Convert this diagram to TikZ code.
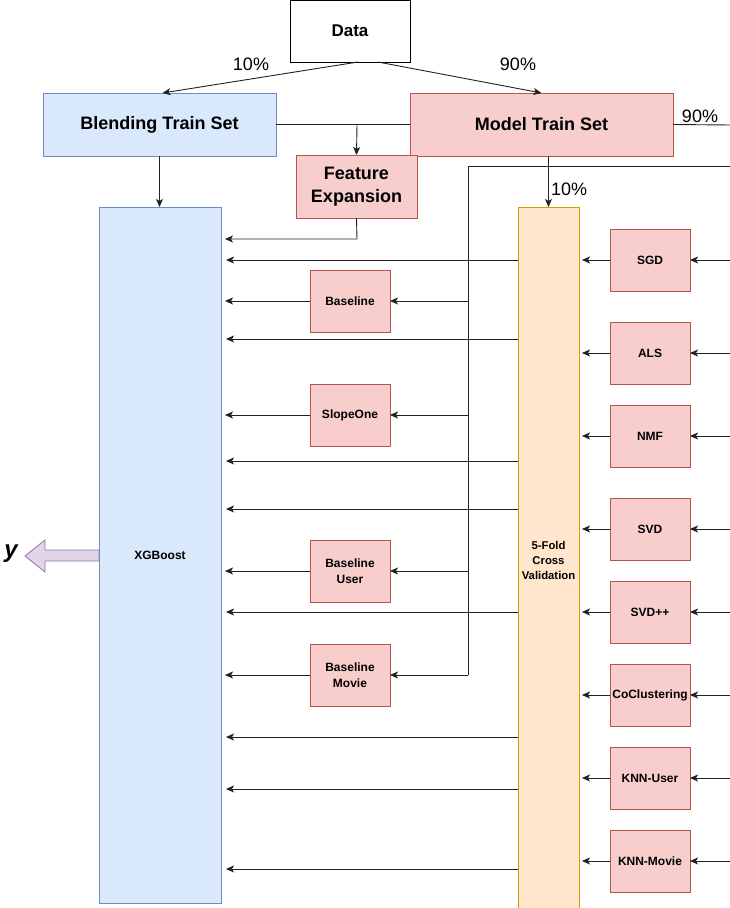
\documentclass[tikz,border=0pt]{standalone}
\usepackage{fontspec}
\setmainfont{Liberation Sans}
\usetikzlibrary{arrows.meta}
\definecolor{bluefill}{HTML}{DAE8FC}
\definecolor{bluedraw}{HTML}{6C8EBF}
\definecolor{redfill}{HTML}{F8CECC}
\definecolor{reddraw}{HTML}{B85450}
\definecolor{orfill}{HTML}{FFE6CC}
\definecolor{ordraw}{HTML}{D79B00}
\definecolor{purfill}{HTML}{E1D5E7}
\definecolor{purdraw}{HTML}{9673A6}
\definecolor{linec}{HTML}{222222}
\tikzset{
  box/.style={draw, inner sep=0pt, outer sep=0pt, align=center, font=\bfseries, line width=0.8pt},
  bluebox/.style={box, fill=bluefill, draw=bluedraw},
  redbox/.style={box, fill=redfill, draw=reddraw},
  orbox/.style={box, fill=orfill, draw=ordraw},
  algo/.style={redbox, minimum width=80pt, minimum height=62pt, font=\bfseries\fontsize{12}{16}\selectfont},
  arr/.style={draw=linec, line width=0.9pt, -{Stealth[length=8pt,width=7pt,inset=2pt]}},
  ln/.style={draw=linec, line width=0.9pt},
  pct/.style={font=\fontsize{18}{20}\selectfont, inner sep=0pt}
}
\begin{document}
\begin{tikzpicture}[x=1pt,y=-1pt]
\useasboundingbox (0,0) rectangle (730,908);
\fill[white] (0,0) rectangle (730,908);

% main boxes
\node[box, fill=white, draw=black, minimum width=120pt, minimum height=62pt, font=\bfseries\fontsize{17}{20}\selectfont] (data) at (350,31) {Data};
\node[bluebox, minimum width=233pt, minimum height=63pt, font=\bfseries\fontsize{18}{20}\selectfont] (blend) at (159.5,124.5) {Blending Train Set};
\node[redbox, minimum width=263pt, minimum height=63pt, font=\bfseries\fontsize{18}{20}\selectfont] (model) at (541.5,124.5) {Model Train Set};
\node[redbox, minimum width=121pt, minimum height=63pt, font=\bfseries\fontsize{18}{23}\selectfont] (feat) at (356.5,186.5) {Feature\\Expansion};
\node[bluebox, minimum width=122pt, minimum height=696pt, font=\bfseries\fontsize{12}{14}\selectfont] (xgb) at (160,555) {XGBoost};
\node[orbox, minimum width=61pt, minimum height=706pt, font=\bfseries\fontsize{11.3}{15}\selectfont] (cv) at (548.5,560) {5-Fold\\Cross\\Validation};

% left algorithm boxes
\node[algo] (base) at (350,301) {Baseline};
\node[algo] (slope) at (350,415) {SlopeOne};
\node[algo] (buser) at (350,571) {Baseline\\User};
\node[algo] (bmovie) at (350,675) {Baseline\\Movie};

% right algorithm boxes
\node[algo] (sgd) at (650,260) {SGD};
\node[algo] (als) at (650,353) {ALS};
\node[algo] (nmf) at (650,436) {NMF};
\node[algo] (svd) at (650,529) {SVD};
\node[algo] (svdpp) at (650,612) {SVD++};
\node[algo] (cocl) at (650,695) {CoClustering};
\node[algo] (knnu) at (650,778) {KNN-User};
\node[algo] (knnm) at (650,861) {KNN-Movie};

% data split
\draw[arr] ([xshift=8pt]data.south) -- ([xshift=3pt]blend.north);
\draw[arr] ([xshift=28pt]data.south) -- (model.north);
\node[pct] (p10a) at (251,64) {10\%};
\node[pct] (p90a) at (518,64) {90\%};

% blend - model line and feature expansion
\draw[ln] (blend.east) -- (model.west);
\coordinate (fj) at (357,125);
\draw[arr] (fj) -- (feat.north);
\coordinate (r0) at (731,125);
\draw[ln] (model.east) -- (r0);
\node[pct] (p90b) at (700,116) {90\%};
\coordinate (fbend) at (357,239);
\draw[arr, shorten >=4pt] (feat.south) -- (fbend) -- (fbend -| xgb.east);

\draw[arr] (blend.south) -- (blend.south |- xgb.north);
\draw[arr] (model.south -| cv.north) -- (cv.north);
\node[pct, anchor=west] (p10b) at (551,189) {10\%};

% branch line to left models
\coordinate (r1) at (731,166);
\coordinate (bt) at (468,166);
\coordinate (bb) at (468,675);
\draw[ln] (r1) -- (bt) -- (bb);
\draw[arr] (bb) -- (bmovie.east);
\draw[arr] (bt |- base.east) -- (base.east);
\draw[arr] (bt |- slope.east) -- (slope.east);
\draw[arr] (bt |- buser.east) -- (buser.east);

% left models to XGBoost
\foreach \n in {base,slope,buser,bmovie}
  \draw[arr, shorten >=4pt] (\n.west) -- (\n.west -| xgb.east);

% CV to XGBoost
\foreach \yy [count=\i] in {260,339,461,509,612,737,789,869} {
  \coordinate (cvo\i) at (518,\yy);
  \draw[arr, shorten >=5pt] (cvo\i) -- (cvo\i -| xgb.east);
}

% right models to CV, and inputs
\foreach \n in {sgd,als,nmf,svd,svdpp,cocl,knnu,knnm} {
  \draw[arr, shorten >=3pt] (\n.west) -- (\n.west -| cv.east);
  \draw[arr] (\n.east -| r0) -- (\n.east);
}

% output arrow
\filldraw[fill=purfill, draw=purdraw, line width=0.8pt]
  (99,550) -- (45,550) -- (45,540) -- (25,556) -- (45,572) -- (45,561) -- (99,561) -- cycle;
\node[font=\bfseries\itshape\fontsize{24}{24}\selectfont, inner sep=0pt] (yout) at (11,554) {y};
\end{tikzpicture}
\end{document}
